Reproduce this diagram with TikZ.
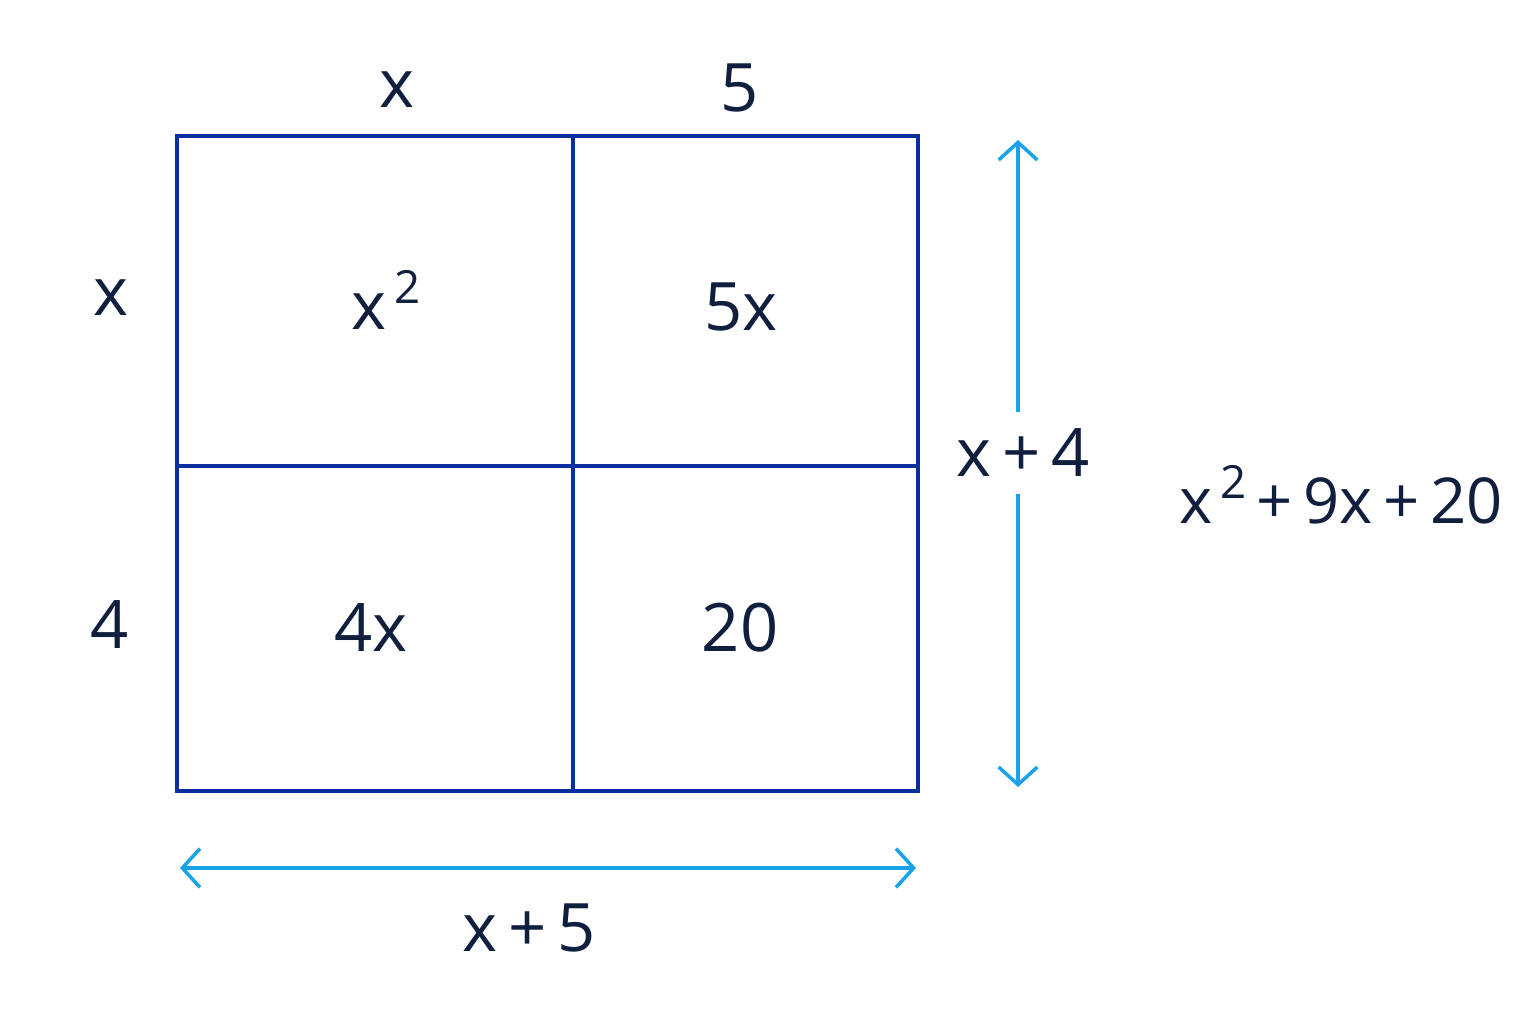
\documentclass[tikz,border=0pt]{standalone}
\usepackage{fontspec}
\setmainfont{Open Sans}
\usetikzlibrary{arrows.meta}
\definecolor{txt}{HTML}{0F1F3D}
\definecolor{boxc}{HTML}{0B2F9E}
\definecolor{arr}{HTML}{1AA3E8}
\newcommand{\sqr}{\raisebox{0.75ex}{\fontsize{13}{15}\selectfont\,2}}
\begin{document}
\begin{tikzpicture}[x=0.01cm,y=-0.01cm,
  lbl/.style={text=txt,font=\fontsize{19}{23}\selectfont,inner sep=0pt},
  boxline/.style={draw=boxc,line width=1pt,line cap=round},
  dimarrow/.style={draw=arr,line width=1pt,{Straight Barb[length=5pt,width=11pt]}-{Straight Barb[length=5pt,width=11pt]}},
  dimline/.style={draw=arr,line width=1pt}]
\useasboundingbox (0,0) rectangle (1536,1024);
% grid
\coordinate (tl) at (177,136);
\coordinate (br) at (918,791);
\draw[boxline] (tl) rectangle (br);
\coordinate (mt) at (573,136);
\coordinate (mb) at (573,791);
\coordinate (ml) at (177,466);
\coordinate (mr) at (918,466);
\draw[boxline] (mt) -- (mb);
\draw[boxline] (ml) -- (mr);
% side labels
\node[lbl] (tx) at (397,90) {x};
\node[lbl] (t5) at (740,88) {5};
\node[lbl] (lx) at (111,298) {x};
\node[lbl] (l4) at (110,625) {4};
% cells
\node[lbl] (c1) at (386,300) {x\sqr};
\node[lbl] (c2) at (741,307) {5x};
\node[lbl] (c3) at (371,628) {4x};
\node[lbl] (c4) at (740,628) {20};
% vertical dimension
\node[lbl] (vlab) at (1023,453) {x\,+\,4};
\coordinate (vt) at (1018,140);
\coordinate (vb) at (1018,787);
\coordinate (vt2) at (1018,412);
\coordinate (vb2) at (1018,494);
\draw[dimline,{Straight Barb[length=5pt,width=11pt]}-] (vt) -- (vt2);
\draw[dimline,-{Straight Barb[length=5pt,width=11pt]}] (vb2) -- (vb);
% horizontal dimension
\coordinate (hl) at (180,868);
\coordinate (hr) at (916,868);
\draw[dimarrow] (hl) -- (hr);
\node[lbl] (hlab) at (529,928) {x\,+\,5};
% result
\node[lbl,font=\fontsize{18}{22}\selectfont] (res) at (1341,495) {x\sqr\,+\,9x\,+\,20};
\end{tikzpicture}
\end{document}
